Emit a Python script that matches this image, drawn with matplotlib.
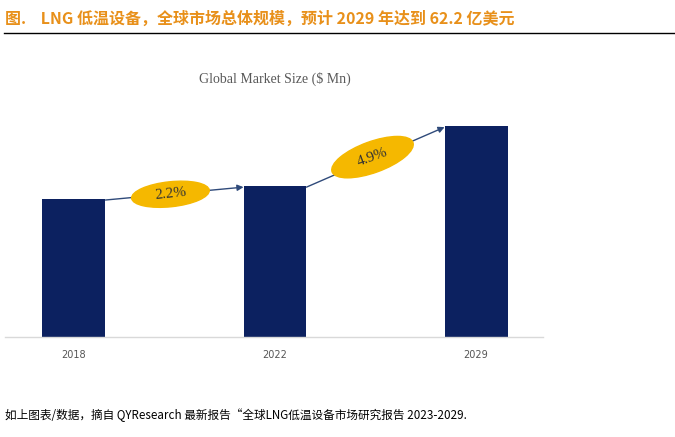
import matplotlib.pyplot as plt
from matplotlib.patches import Ellipse
from matplotlib.transforms import ScaledTranslation
import numpy as np

plt.rcParams['font.family'] = ['Noto Sans CJK SC', 'DejaVu Sans']

# market size, 亿美元 (62.2 in 2029)
years  = ['2018', '2022', '2029']
values = [40.7, 44.5, 62.2]
cagr   = ['2.2%', '4.9%']

title  = '图.    LNG 低温设备，全球市场总体规模，预计 2029 年达到 62.2 亿美元'
source = '如上图表/数据，摘自 QYResearch 最新报告“全球LNG低温设备市场研究报告 2023-2029.'

fig = plt.figure(figsize=(6.75, 4.37), dpi=100)

# header + rule
fig.text(0.007, 0.958, title, color='#E8901A', fontsize=11.5, fontweight='bold',
         va='center', ha='left')
fig.add_artist(plt.Line2D([0.006, 1.0], [0.924, 0.924], color='black', lw=1.0,
                          transform=fig.transFigure))

ax = fig.add_axes([5/675, 1-337/437, 538/675, 237/437])
x = np.arange(len(years))
w = 0.313
ax.bar(x, values, width=w, color='#0C2160', zorder=2)
ax.set_xlim(-0.343, 2.333)
ax.set_ylim(0, 69.9)
ax.set_yticks([])
ax.set_xticks(x)
ax.set_xticklabels(years, fontsize=7, color='#555555', family='DejaVu Sans')
ax.tick_params(axis='x', length=0, pad=9)
for s in ['top', 'right', 'left']:
    ax.spines[s].set_visible(False)
ax.spines['bottom'].set_color('#D9D9D9')
ax.spines['bottom'].set_linewidth(1.0)

# growth arrows with CAGR ellipses (ellipse size in pixels -> inches)
angles = [6, 20]
sizes = [(0.78, 0.25), (0.86, 0.31)]
shift = [(-0.02, -0.2), (-0.015, 0.0)]
for i in range(len(cagr)):
    x0, y0 = x[i] + w/2, values[i] - 0.3
    x1, y1 = x[i+1] - w/2, values[i+1] - 0.3
    ax.annotate('', xy=(x1, y1), xytext=(x0, y0),
                arrowprops=dict(arrowstyle='-|>', color='#2F4A7A', lw=1.0,
                                mutation_scale=9, shrinkA=0, shrinkB=0), zorder=3)
    cx, cy = (x0 + x1) / 2 + shift[i][0], (y0 + y1) / 2 + shift[i][1]
    tr = fig.dpi_scale_trans + ScaledTranslation(cx, cy, ax.transData)
    ax.add_patch(Ellipse((0, 0), sizes[i][0], sizes[i][1], angle=angles[i],
                         color='#F5B800', zorder=4, transform=tr))
    ax.text(cx, cy, cagr[i], fontsize=11, family='Liberation Serif', color='#333333',
            ha='center', va='center', rotation=angles[i], zorder=5)

fig.text(275/675, 1-79/437, 'Global Market Size ($ Mn)', fontsize=10,
         family='Liberation Serif', color='#595959', ha='center', va='center')

fig.text(0.007, 1-415/437, source, fontsize=8.4, color='black', va='center',
         ha='left', style='italic')

fig.savefig('out.png', dpi=100)
